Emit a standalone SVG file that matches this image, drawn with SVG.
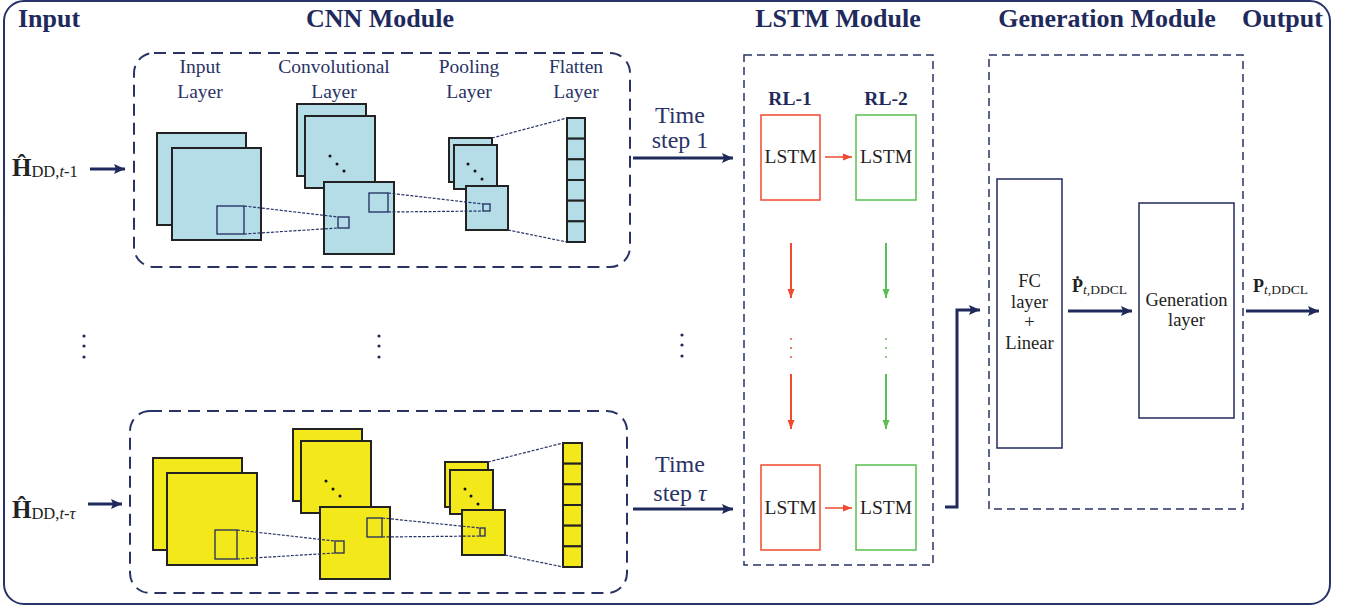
<svg xmlns="http://www.w3.org/2000/svg" width="1356" height="608" viewBox="0 0 1356 608">
<defs>
<marker id="ah" markerUnits="userSpaceOnUse" markerWidth="12" markerHeight="12" refX="11" refY="6" orient="auto"><path d="M0,1 L11,6 L0,11 L2,6 Z" fill="#1f2a5c"/></marker>
<marker id="ahr" markerUnits="userSpaceOnUse" markerWidth="10" markerHeight="8" refX="9" refY="4" orient="auto"><path d="M0,0.5 L9,4 L0,7.5 Z" fill="#f04a30"/></marker>
<marker id="ahg" markerUnits="userSpaceOnUse" markerWidth="10" markerHeight="8" refX="9" refY="4" orient="auto"><path d="M0,0.5 L9,4 L0,7.5 Z" fill="#58c050"/></marker>
</defs>
<style>
text{font-family:"Liberation Serif","DejaVu Serif","Times New Roman",serif}
.title{font-size:26px;font-weight:bold;fill:#1f2a5c}
.lbl{font-size:19.5px;fill:#2a3366;text-anchor:middle}
.ts{font-size:24px;fill:#2a3366;text-anchor:middle}
.cell{font-size:19.5px;fill:#222;text-anchor:middle}
.gl{font-size:18.5px;fill:#222;text-anchor:middle}
.blue{fill:#b5dde8;stroke:#222;stroke-width:2}
.yel{fill:#f2e81a;stroke:#222;stroke-width:2}
.win{fill:none;stroke:#1f2a5c;stroke-width:1.3}
.dl{stroke:#2a3366;stroke-width:1.2;stroke-dasharray:3 1.5;fill:none}
.dot{fill:#111}
.cnnbox{fill:none;stroke:#2a3366;stroke-width:2;stroke-dasharray:12 7}
.mbox{fill:none;stroke:#2a3366;stroke-width:1.5;stroke-dasharray:8 5}
.arr{stroke:#1f2a5c;stroke-width:3;fill:none;marker-end:url(#ah)}
.nv{fill:#1f2a5c}
</style>

<g id="frame">
<rect x="4" y="1" width="1326" height="603" rx="20" fill="none" stroke="#28336b" stroke-width="2"/>
<text class="title" x="18" y="27">Input</text>
<text class="title" x="380" y="27" text-anchor="middle">CNN Module</text>
<text class="title" x="838" y="27" text-anchor="middle">LSTM Module</text>
<text class="title" x="1107" y="27" text-anchor="middle">Generation Module</text>
<text class="title" x="1242" y="27">Output</text>
</g>

<g id="input1">
<text x="12" y="176" fill="#222"><tspan font-size="25" font-weight="bold">Ĥ</tspan><tspan font-size="16.5" dy="1">DD,<tspan font-style="italic">t</tspan>-1</tspan></text>
</g>
<g id="input2">
<text x="12" y="518" fill="#222"><tspan font-size="25" font-weight="bold">Ĥ</tspan><tspan font-size="16.5" dy="1">DD,<tspan font-style="italic">t</tspan>-<tspan font-style="italic">τ</tspan></tspan></text>
</g>

<g id="cnn1">
<rect class="cnnbox" x="134" y="53" width="496" height="214" rx="20"/>
<text class="lbl" x="200" y="73">Input</text><text class="lbl" x="200" y="98">Layer</text>
<text class="lbl" x="334" y="73">Convolutional</text><text class="lbl" x="334" y="98">Layer</text>
<text class="lbl" x="469" y="73">Pooling</text><text class="lbl" x="469" y="98">Layer</text>
<text class="lbl" x="576" y="73">Flatten</text><text class="lbl" x="576" y="98">Layer</text>
<rect class="blue" x="157" y="133" width="89" height="92"/>
<rect class="blue" x="172" y="148" width="89" height="92"/>
<rect class="win" x="217" y="206" width="27" height="28"/>
<rect class="blue" x="297" y="104" width="69" height="72"/>
<rect class="blue" x="305" y="116" width="70" height="72"/>
<circle class="dot" cx="330" cy="156" r="1.5"/><circle class="dot" cx="337" cy="164" r="1.5"/><circle class="dot" cx="344" cy="171" r="1.5"/>
<rect class="blue" x="324" y="182" width="70" height="72"/>
<rect class="win" x="338" y="217" width="11" height="11"/>
<rect class="win" x="369" y="193" width="19" height="19"/>
<path class="dl" d="M244,206 L338,217 M244,234 L338,228"/>
<rect class="blue" x="449" y="138" width="43" height="44"/>
<rect class="blue" x="454" y="145" width="43" height="44"/>
<circle class="dot" cx="468" cy="164" r="1.5"/><circle class="dot" cx="475" cy="171" r="1.5"/><circle class="dot" cx="482" cy="179" r="1.5"/>
<rect class="blue" x="466" y="186" width="42" height="44"/>
<rect class="win" x="483" y="204" width="7" height="7"/>
<path class="dl" d="M388,193 L483,204 M388,212 L483,211"/>
<rect class="blue" x="567" y="118" width="18" height="20.67"/>
<rect class="blue" x="567" y="138.67" width="18" height="20.67"/>
<rect class="blue" x="567" y="159.33" width="18" height="20.67"/>
<rect class="blue" x="567" y="180" width="18" height="20.67"/>
<rect class="blue" x="567" y="200.67" width="18" height="20.67"/>
<rect class="blue" x="567" y="221.33" width="18" height="20.67"/>
<path class="dl" d="M492,138 L567,118 M508,230 L567,242"/>
</g>

<g id="cnn2">
<rect class="cnnbox" x="130" y="411" width="497" height="182" rx="20"/>
<rect class="yel" x="153" y="458" width="89" height="92"/>
<rect class="yel" x="167" y="473" width="90" height="92"/>
<rect class="win" x="215" y="530" width="22" height="29"/>
<rect class="yel" x="293" y="429" width="69" height="72"/>
<rect class="yel" x="301" y="441" width="70" height="72"/>
<circle class="dot" cx="326" cy="481" r="1.5"/><circle class="dot" cx="333" cy="489" r="1.5"/><circle class="dot" cx="340" cy="496" r="1.5"/>
<rect class="yel" x="320" y="507" width="70" height="72"/>
<rect class="win" x="335" y="541" width="9" height="12"/>
<rect class="win" x="367" y="518" width="15" height="19"/>
<path class="dl" d="M237,530 L335,541 M237,559 L335,553"/>
<rect class="yel" x="445" y="462" width="43" height="45"/>
<rect class="yel" x="450" y="470" width="43" height="44"/>
<circle class="dot" cx="465" cy="489" r="1.5"/><circle class="dot" cx="471" cy="496" r="1.5"/><circle class="dot" cx="478" cy="504" r="1.5"/>
<rect class="yel" x="462" y="510" width="43" height="45"/>
<rect class="win" x="480" y="528" width="5" height="8"/>
<path class="dl" d="M382,518 L480,528 M382,537 L480,536"/>
<rect class="yel" x="563" y="443" width="19" height="20.67"/>
<rect class="yel" x="563" y="463.67" width="19" height="20.67"/>
<rect class="yel" x="563" y="484.33" width="19" height="20.67"/>
<rect class="yel" x="563" y="505" width="19" height="20.67"/>
<rect class="yel" x="563" y="525.67" width="19" height="20.67"/>
<rect class="yel" x="563" y="546.33" width="19" height="20.67"/>
<path class="dl" d="M488,462 L563,443 M505,555 L563,567"/>
</g>

<g id="ellipses">
<circle class="nv" cx="84" cy="336" r="1.6"/><circle class="nv" cx="84" cy="346" r="1.6"/><circle class="nv" cx="84" cy="357" r="1.6"/>
<circle class="nv" cx="379" cy="336" r="1.6"/><circle class="nv" cx="379" cy="346" r="1.6"/><circle class="nv" cx="379" cy="357" r="1.6"/>
<circle class="nv" cx="682" cy="335" r="1.6"/><circle class="nv" cx="682" cy="345" r="1.6"/><circle class="nv" cx="682" cy="356" r="1.6"/>
</g>

<g id="timelabels">
<text class="ts" x="680" y="123">Time</text><text class="ts" x="680" y="148">step 1</text>
<text class="ts" x="680" y="472">Time</text><text class="ts" x="680" y="501">step <tspan font-style="italic">τ</tspan></text>
</g>

<g id="lstm">
<rect class="mbox" x="744" y="55" width="189" height="510"/>
<text x="790" y="105" font-size="19.5" font-weight="bold" fill="#1f2a5c" text-anchor="middle">RL-1</text>
<text x="886" y="105" font-size="19.5" font-weight="bold" fill="#1f2a5c" text-anchor="middle">RL-2</text>
<rect x="761" y="115" width="59" height="85" fill="none" stroke="#f04a30" stroke-width="1.5"/>
<rect x="856" y="115" width="60" height="85" fill="none" stroke="#58c050" stroke-width="1.5"/>
<text class="cell" x="790.5" y="163">LSTM</text><text class="cell" x="886" y="163">LSTM</text>
<rect x="761" y="465" width="59" height="85" fill="none" stroke="#f04a30" stroke-width="1.5"/>
<rect x="856" y="465" width="60" height="85" fill="none" stroke="#58c050" stroke-width="1.5"/>
<text class="cell" x="790.5" y="514">LSTM</text><text class="cell" x="886" y="514">LSTM</text>
<circle cx="791" cy="339" r="1" fill="#f04a30"/><circle cx="791" cy="348" r="1" fill="#f04a30"/><circle cx="791" cy="357" r="1" fill="#f04a30"/>
<circle cx="886" cy="339" r="1" fill="#58c050"/><circle cx="886" cy="348" r="1" fill="#58c050"/><circle cx="886" cy="357" r="1" fill="#58c050"/>
</g>

<g id="generation">
<rect class="mbox" x="989" y="55" width="254" height="454"/>
<rect x="997" y="179" width="65" height="269" fill="none" stroke="#1f2a5c" stroke-width="1.5"/>
<text class="gl" x="1029.5" y="287">FC</text>
<text class="gl" x="1029.5" y="307.5">layer</text>
<text class="gl" x="1029.5" y="328">+</text>
<text class="gl" x="1029.5" y="348.5">Linear</text>
<rect x="1139" y="203" width="95" height="215" fill="none" stroke="#1f2a5c" stroke-width="1.5"/>
<text class="gl" x="1186.5" y="305.5">Generation</text>
<text class="gl" x="1186.5" y="326">layer</text>
<text x="1072" y="292" fill="#222"><tspan font-size="18" font-weight="bold">Ṗ</tspan><tspan font-size="13.5" dy="2"><tspan font-style="italic">t</tspan>,DDCL</tspan></text>
</g>

<g id="output">
<text x="1253" y="292" fill="#222"><tspan font-size="18" font-weight="bold">P</tspan><tspan font-size="13.5" dy="2"><tspan font-style="italic">t</tspan>,DDCL</tspan></text>
</g>

<g id="connectors">
<path class="arr" d="M90,169 H125"/>
<path class="arr" d="M88,504 H122"/>
<path class="arr" d="M633,158 H733"/>
<path class="arr" d="M633,509 H733"/>
<path d="M825,157 H852" stroke="#f04a30" stroke-width="1.5" marker-end="url(#ahr)"/>
<path d="M825,508 H852" stroke="#f04a30" stroke-width="1.5" marker-end="url(#ahr)"/>
<path d="M791,243 V298" stroke="#f04a30" stroke-width="2" marker-end="url(#ahr)"/>
<path d="M791,374 V429" stroke="#f04a30" stroke-width="2" marker-end="url(#ahr)"/>
<path d="M886,243 V298" stroke="#58c050" stroke-width="2" marker-end="url(#ahg)"/>
<path d="M886,374 V429" stroke="#58c050" stroke-width="2" marker-end="url(#ahg)"/>
<path class="arr" d="M945,507 H957 V310 H980"/>
<path class="arr" d="M1068,311 H1132"/>
<path class="arr" d="M1246,311 H1319"/>
</g>
</svg>
